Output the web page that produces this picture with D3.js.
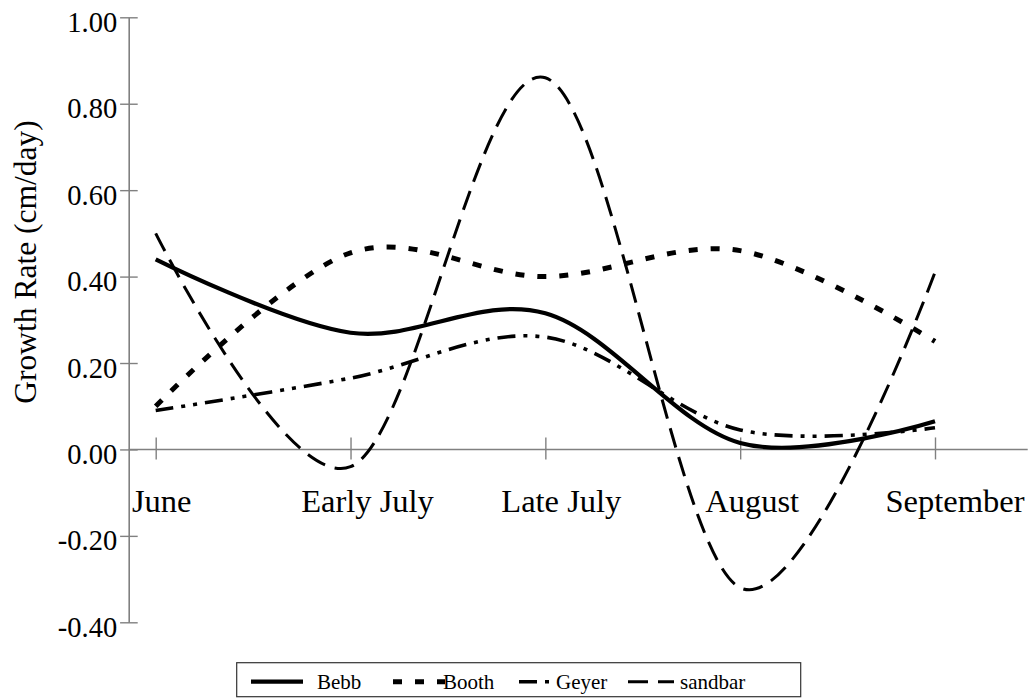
<!DOCTYPE html>
<html>
<head>
<meta charset="utf-8">
<script src="https://cdn.jsdelivr.net/npm/d3@7/dist/d3.min.js"></script>
<style>
  html, body { margin: 0; padding: 0; background: #fff; }
  svg { display: block; }
</style>
</head>
<body>
<svg id="chart" width="1031" height="698"></svg>
<script>
// ---- data ----
const categories = ["June", "Early July", "Late July", "August", "September"];
const bebb    = [0.44, 0.27, 0.315, 0.015, 0.065];
const booth   = [0.10, 0.455, 0.40, 0.46, 0.25];
const geyer   = [0.09, 0.165, 0.26, 0.045, 0.05];
const sandbar = [0.50, -0.04, 0.86, -0.32, 0.41];
const seriesNames = ["Bebb", "Booth", "Geyer", "sandbar"];
const yTicks = [-0.4, -0.2, 0, 0.2, 0.4, 0.6, 0.8, 1.0];

// ---- layout ----
const FONT = "'Liberation Serif', 'Times New Roman', Times, serif";
const svg = d3.select("#chart").style("font-family", FONT);
const axisX = 128.7;
const x = d3.scalePoint().domain(categories).range([155.7, 935]);
const y = d3.scaleLinear().domain([-0.4, 1.0]).range([622.3, 17.3]);
const grey = "#808080";

const styles = {
  Bebb:    { dash: null,              width: 4.2 },
  Booth:   { dash: "9,13",            width: 5 },
  Geyer:   { dash: "18,8,4,8,4,8",    width: 3.6 },
  sandbar: { dash: "20,10",           width: 3 }
};
const seriesData = { Bebb: bebb, Booth: booth, Geyer: geyer, sandbar: sandbar };
const fmt = v => d3.format(".2f")(v).replace("\u2212", "-");

// y axis
const yAxis = d3.axisLeft(y).tickValues(yTicks).tickFormat(fmt).tickSize(0);
const gy = svg.append("g").attr("transform", `translate(${axisX},0)`).call(yAxis)
  .attr("font-family", null).attr("font-size", null);
gy.select(".domain").attr("stroke", grey).attr("stroke-width", 1.6);
gy.selectAll(".tick line").attr("x1", -8.6).attr("x2", 9).attr("stroke", grey).attr("stroke-width", 1.4);
gy.selectAll(".tick text")
  .attr("x", -11.5).attr("dy", 14)
  .style("font-family", FONT)
  .style("font-size", "28.5px")
  .style("fill", "#000");

// x axis at zero
const xAxis = d3.axisBottom(x).tickSize(0).tickFormat("");
const gx = svg.append("g").attr("transform", `translate(0,${y(0)})`).call(xAxis);
gx.select(".domain").remove();
gx.selectAll(".tick text").remove();
gx.append("line").attr("x1", axisX).attr("x2", 1027.7).attr("y1", 0).attr("y2", 0)
  .attr("stroke", grey).attr("stroke-width", 1.6);
gx.selectAll(".tick line").attr("y1", -12).attr("y2", 10).attr("stroke", grey).attr("stroke-width", 1.4);

// category labels
const labelDx = [6, 17, 16, 12, 20];
svg.append("g").selectAll("text").data(categories).join("text")
  .attr("x", (d, i) => x(d) + labelDx[i])
  .attr("y", 512)
  .attr("text-anchor", "middle")
  .style("font-family", FONT)
  .style("font-size", "32.5px")
  .style("fill", "#000")
  .text(d => d);

// y title
svg.append("text")
  .attr("transform", `translate(36,${262}) rotate(-90)`)
  .attr("text-anchor", "middle")
  .style("font-family", FONT)
  .style("font-size", "31.5px")
  .style("fill", "#000")
  .text("Growth Rate (cm/day)");

// lines
const line = d3.line()
  .x((d, i) => x(categories[i]))
  .y(d => y(d))
  .curve(d3.curveCatmullRom.alpha(0));

const plotOrder = ["sandbar", "Geyer", "Booth", "Bebb"];
plotOrder.forEach(name => {
  const st = styles[name];
  svg.append("path")
    .datum(seriesData[name])
    .attr("d", line)
    .attr("fill", "none")
    .attr("stroke", "#000")
    .attr("stroke-width", st.width)
    .attr("stroke-dasharray", st.dash)
    .attr("stroke-linecap", "butt")
    .attr("stroke-linejoin", "round");
});

// legend
const lg = svg.append("g");
lg.append("rect").attr("x", 236.7).attr("y", 662.7).attr("width", 564).attr("height", 34)
  .attr("fill", "#fff").attr("stroke", "#333").attr("stroke-width", 1.2);
const legendSample = { Bebb: [251, 303], Booth: [393, 445], Geyer: [519, 556], sandbar: [628, 674] };
const legendText = { Bebb: 317, Booth: 443, Geyer: 556, sandbar: 680 };
seriesNames.forEach(name => {
  const st = styles[name];
  const [a, b] = legendSample[name];
  lg.append("line").attr("x1", a).attr("x2", b).attr("y1", 681.7).attr("y2", 681.7)
    .attr("stroke", "#000").attr("stroke-width", st.width)
    .attr("stroke-dasharray", st.dash);
  lg.append("text").attr("x", legendText[name]).attr("y", 689)
    .style("font-family", FONT)
    .style("font-size", "21px")
    .style("fill", "#000")
    .text(name);
});
</script>
</body>
</html>
